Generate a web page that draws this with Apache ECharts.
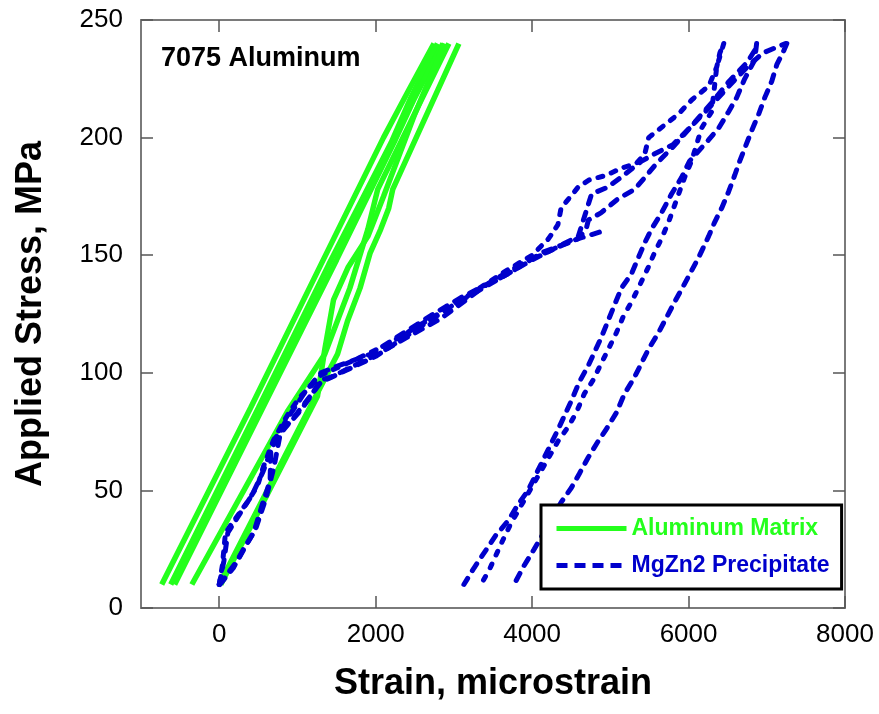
<!DOCTYPE html>
<html>
<head>
<meta charset="utf-8">
<script src="https://cdn.jsdelivr.net/npm/echarts@6/dist/echarts.min.js"></script>
<style>
  html, body { margin: 0; padding: 0; background: #fff; }
  #chart { width: 879px; height: 714px; }
</style>
</head>
<body>
<div id="chart"></div>
<script>
// tick labels
var strainTicks = [0, 2000, 4000, 6000, 8000];
var stressTicks = [0, 50, 100, 150, 200, 250];

// Aluminum Matrix curves [strain, stress]
var matrix1 = [[-735,10],[400,85],[1300,146],[2100,200],[2420,220],[2745,240]];
var matrix2 = [[-620,10],[500,85],[1400,146],[2200,198],[2450,217],[2790,240]];
var matrix3 = [[-570,10],[600,88],[1500,148],[2250,199],[2500,217],[2860,240]];
var matrix4 = [[-350,10],[880,84],[1350,108],[1670,136],[1900,161],[2026,178],[2936,240]];
var matrix5 = [[0,10],[1077,80],[1295,94],[1513,108],[1640,122],[1800,136],[1930,151],[2064,161],[2167,170],[2218,178],[3064,240]];
var matrix6 = [[20,10],[640,50],[1256,90],[1350,110],[1461,131],[1650,145],[1900,158],[2100,175],[2500,210],[2880,240]];

// MgZn2 Precipitate curves [strain, stress]
var precip1 = [[0,10],[40,18],[80,32],[250,40],[360,45],[490,52],[564,60],[690,71],[820,79],[910,84],[1040,90],[1166,94],[1300,99],[1700,105],[2150,112],[2600,121],[3100,131],[3650,143],[4000,150],[4210,157],[4330,163],[4370,170],[4590,179],[4730,182],[4950,184],[5140,187],[5330,189],[5440,193],[5490,200],[5680,205],[5870,210],[6040,216],[6260,222],[6360,230],[6400,236],[6450,240]];
var precip2 = [[10,10],[180,17],[310,25],[440,32],[560,45],[650,54],[660,66],[740,74],[910,79],[1040,84],[1170,90],[1300,97],[1420,98],[2030,108],[2450,116],[2830,123],[3440,138],[3900,147],[4370,154],[4590,157],[4690,161],[4720,165],[4880,168],[5100,174],[5310,178],[5440,183],[5590,189],[5800,196],[6040,205],[6300,215],[6520,224],[6750,232],[6900,240]];
var precip3 = [[0,10],[60,20],[110,32],[300,42],[420,48],[560,58],[720,72],[860,80],[1100,92],[1300,100],[1520,103],[1940,108],[2360,117],[2740,125],[3090,132],[3690,142],[4120,151],[4590,157],[4880,160]];
var precip4 = [[0,10],[230,20],[470,34],[600,47],[700,60],[780,74],[1000,83],[1300,96],[2000,107],[3000,129],[4000,148],[4590,158],[4760,176],[4970,179],[5170,184],[5400,190],[5560,193],[5800,197],[6040,205],[6300,214],[6520,222],[6750,230],[6950,236],[7240,240]];
var precip5 = [[6870,240],[6846,233],[6718,225],[6615,217],[6512,211],[6384,204],[6256,199],[6013,190],[5910,183],[5782,176],[5654,168],[5525,161],[5436,155],[5359,149],[5269,142],[5141,136],[4884,115],[4717,103],[4602,96],[4500,88],[4333,76],[4141,63],[3948,50],[3820,44],[3692,37],[3538,31],[3257,17],[3128,10]];
var precip6 = [[6450,240],[6360,230],[6295,211],[6166,204],[6102,197],[6038,190],[5949,183],[5808,170],[5743,164],[5654,157],[5564,151],[5487,145],[5372,137],[5269,130],[5166,124],[5077,117],[4974,110],[4884,104],[4782,97],[4666,91],[4564,83],[4461,77],[4333,71],[3730,36],[3628,29],[3449,16],[3346,10]];
var precip7 = [[7256,240],[7218,237],[7128,231],[7064,224],[6974,217],[6897,210],[6807,203],[6654,190],[6590,184],[6512,177],[6423,170],[6333,164],[6256,158],[6128,149],[5936,137],[5820,130],[5615,117],[5487,110],[5307,98],[5180,91],[5077,83],[4948,76],[4846,71],[4717,64],[4602,57],[4500,51],[4372,45],[4115,30],[4026,25],[3897,18],[3769,10]];

var green = '#24ff1c';
var blue = '#0000cc';
var font = '"Liberation Sans", Arial, sans-serif';

var matrixLines = [matrix1, matrix2, matrix3, matrix4, matrix5, matrix6];
var precipLines = [precip1, precip2, precip3, precip4, precip5, precip6, precip7];
var precipDash = [[5,9],[8,9],[8,9],[8,9],[8,9],[4,10],[8,9]];

var series = [];
matrixLines.forEach(function (d) {
    series.push({
        name: 'Aluminum Matrix',
        type: 'line',
        data: d,
        symbol: 'none',
        lineStyle: { color: green, width: 5.5, type: 'solid' },
        itemStyle: { color: green }
    });
});
precipLines.forEach(function (d, i) {
    series.push({
        name: 'MgZn2 Precipitate',
        type: 'line',
        data: d,
        symbol: 'none',
        lineStyle: { color: blue, width: 5, type: precipDash[i], cap: 'round' },
        itemStyle: { color: blue }
    });
});

var frame = { show: true, onZero: false, lineStyle: { color: '#7a7a7a', width: 2 } };
var tick = { show: true, inside: true, length: 12, lineStyle: { color: '#555', width: 1.5 } };
function plain(v) { return String(v); }

var chart = echarts.init(document.getElementById('chart'));
chart.setOption({
    animation: false,
    backgroundColor: '#fff',
    title: {
        text: '7075 Aluminum',
        left: 161,
        top: 45,
        padding: 0,
        textStyle: { fontFamily: font, fontSize: 27, fontWeight: 'bold', color: '#000' }
    },
    legend: {
        orient: 'vertical',
        left: 541,
        top: 505,
        padding: [12, 12, 12, 13],
        itemWidth: 70,
        itemHeight: 23,
        itemGap: 14,
        borderColor: '#000',
        borderWidth: 3,
        backgroundColor: '#fff',
        itemStyle: { opacity: 0 },
        textStyle: { fontFamily: font, fontSize: 23, fontWeight: 'bold' },
        data: [
            { name: 'Aluminum Matrix', textStyle: { color: green },
              lineStyle: { color: green, width: 5, type: 'solid' } },
            { name: 'MgZn2 Precipitate', textStyle: { color: blue },
              lineStyle: { color: blue, width: 5, type: [11, 7], cap: 'butt' } }
        ]
    },
    grid: { left: 141, right: 34, top: 20, bottom: 106 },
    xAxis: [
        {
            type: 'value',
            min: -1000,
            max: 8000,
            name: 'Strain, microstrain',
            nameLocation: 'middle',
            nameGap: 58,
            nameTextStyle: { fontFamily: font, fontSize: 36, fontWeight: 'bold', color: '#000' },
            axisLine: frame,
            axisTick: Object.assign({ customValues: strainTicks }, tick),
            axisLabel: { customValues: strainTicks, formatter: plain, fontFamily: font, fontSize: 26, color: '#000', margin: 14 },
            splitLine: { show: false }
        },
        {
            type: 'value',
            position: 'top',
            min: -1000,
            max: 8000,
            axisLine: frame,
            axisTick: Object.assign({ customValues: strainTicks }, tick),
            axisLabel: { show: false },
            splitLine: { show: false }
        }
    ],
    yAxis: [
        {
            type: 'value',
            min: 0,
            max: 250,
            interval: 50,
            name: 'Applied Stress, MPa',
            nameLocation: 'middle',
            nameGap: 92,
            nameTextStyle: { fontFamily: font, fontSize: 36, fontWeight: 'bold', color: '#000' },
            axisLine: frame,
            axisTick: tick,
            axisLabel: { formatter: plain, fontFamily: font, fontSize: 26, color: '#000', margin: 18 },
            splitLine: { show: false }
        },
        {
            type: 'value',
            position: 'right',
            min: 0,
            max: 250,
            interval: 50,
            axisLine: frame,
            axisTick: tick,
            axisLabel: { show: false },
            splitLine: { show: false }
        }
    ],
    series: series
});
</script>
</body>
</html>
